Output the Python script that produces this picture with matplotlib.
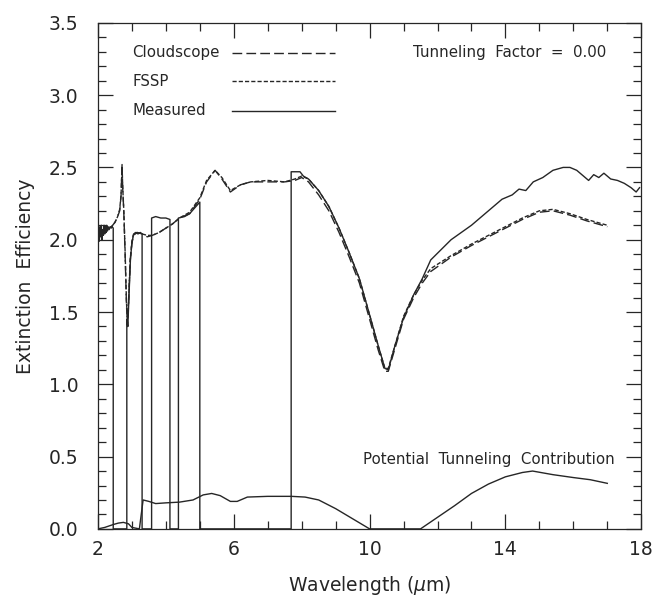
import matplotlib
matplotlib.use("Agg")
import matplotlib.pyplot as plt
from matplotlib.ticker import MultipleLocator

# model curves (Cloudscope / FSSP)
wl_model = [2.00, 2.10, 2.20, 2.30, 2.40, 2.50, 2.58, 2.64, 2.68, 2.71, 2.73, 2.76, 2.80, 2.84, 2.87,
            2.90, 2.95, 3.00, 3.05, 3.15, 3.30, 3.45, 3.60, 3.80, 4.00, 4.20, 4.40, 4.70, 5.00, 5.20,
            5.45, 5.65, 5.90, 6.20, 6.50, 7.00, 7.50, 7.80, 8.00, 8.20, 8.50, 8.80, 9.10, 9.40, 9.70,
            10.00, 10.25, 10.45, 10.55, 10.75, 11.00, 11.30, 11.55, 11.80, 12.40, 13.00, 13.50, 14.00,
            14.50, 15.00, 15.40, 15.90, 16.40, 17.00]
cloudscope = [2.05, 2.06, 2.07, 2.08, 2.09, 2.12, 2.16, 2.20, 2.30, 2.52, 2.35, 2.20, 1.90, 1.55, 1.40,
              1.55, 1.85, 1.98, 2.03, 2.05, 2.04, 2.02, 2.03, 2.05, 2.08, 2.11, 2.15, 2.18, 2.28, 2.40,
              2.48, 2.42, 2.33, 2.38, 2.40, 2.40, 2.40, 2.41, 2.43, 2.40, 2.31, 2.20, 2.05, 1.88, 1.70,
              1.45, 1.24, 1.09, 1.09, 1.25, 1.45, 1.60, 1.70, 1.78, 1.88, 1.96, 2.02, 2.08,
              2.14, 2.19, 2.20, 2.17, 2.13, 2.09]
fssp = [2.05, 2.06, 2.07, 2.08, 2.09, 2.12, 2.16, 2.21, 2.31, 2.50, 2.36, 2.21, 1.92, 1.57, 1.42,
        1.57, 1.86, 1.99, 2.04, 2.05, 2.04, 2.03, 2.03, 2.05, 2.08, 2.11, 2.15, 2.19, 2.29, 2.41,
        2.48, 2.43, 2.34, 2.38, 2.40, 2.41, 2.40, 2.42, 2.44, 2.42, 2.34, 2.23, 2.08, 1.91, 1.73,
        1.48, 1.27, 1.11, 1.11, 1.27, 1.47, 1.62, 1.72, 1.80, 1.89, 1.97, 2.03, 2.09,
        2.15, 2.20, 2.21, 2.18, 2.14, 2.10]

# measured spectrum, gaps written as zeros
wl_meas = [2.00, 2.02, 2.04, 2.06, 2.08, 2.10, 2.12, 2.14, 2.16, 2.18, 2.20, 2.22, 2.24, 2.26, 2.28,
           2.30, 2.33, 2.36, 2.39, 2.42, 2.45, 2.45, 2.85, 2.85, 2.88, 2.92, 2.96, 3.00, 3.04, 3.10,
           3.18, 3.25, 3.30, 3.30, 3.58, 3.58, 3.70, 3.85, 4.00, 4.12, 4.12, 4.37, 4.37, 4.55, 4.70,
           4.85, 5.00, 5.00, 7.69, 7.69, 7.95, 8.05, 8.20, 8.50, 8.80, 9.10, 9.40, 9.70, 10.00,
           10.25, 10.45, 10.55, 10.75, 11.00, 11.30, 11.55, 11.80, 12.40, 13.00, 13.50, 13.90, 14.20,
           14.40, 14.60, 14.82, 15.10, 15.40, 15.70, 15.90, 16.10, 16.30, 16.45, 16.60, 16.75, 16.90,
           17.10, 17.30, 17.50, 17.70, 17.85, 17.95]
measured = [2.00, 2.08, 1.99, 2.09, 2.02, 2.10, 2.00, 2.07, 2.03, 2.10, 2.04, 2.09, 2.05, 2.10, 2.06,
            2.09, 2.07, 2.09, 2.08, 2.09, 2.08, 0.0, 0.0, 1.45, 1.40, 1.65, 1.88, 1.97, 2.03, 2.05,
            2.04, 2.05, 2.04, 0.0, 0.0, 2.15, 2.16, 2.15, 2.15, 2.14, 0.0, 0.0, 2.15, 2.16, 2.18,
            2.22, 2.26, 0.0, 0.0, 2.47, 2.47, 2.44, 2.42, 2.34, 2.23, 2.08, 1.91, 1.73, 1.48,
            1.27, 1.11, 1.10, 1.27, 1.46, 1.62, 1.73, 1.86, 2.00, 2.10, 2.20, 2.28, 2.31,
            2.35, 2.34, 2.40, 2.43, 2.48, 2.50, 2.50, 2.48, 2.44, 2.41, 2.45, 2.43, 2.46,
            2.42, 2.41, 2.39, 2.36, 2.33, 2.36]

# potential tunneling contribution
wl_tun = [2.00, 2.20, 2.45, 2.60, 2.75, 2.90, 3.00, 3.22, 3.33, 3.50, 3.70, 4.00, 4.40, 4.80, 5.10,
          5.35, 5.60, 5.90, 6.10, 6.40, 7.00, 7.70, 8.10, 8.50, 9.00, 9.50, 10.00, 11.50, 12.00,
          12.50, 13.00, 13.50, 14.00, 14.50, 14.80, 15.40, 16.00, 16.50, 17.00]
tunneling = [0.00, 0.01, 0.03, 0.04, 0.045, 0.035, 0.01, 0.00, 0.20, 0.19, 0.175, 0.18, 0.185, 0.20, 0.235,
             0.245, 0.23, 0.19, 0.19, 0.22, 0.225, 0.225, 0.22, 0.20, 0.14, 0.07, 0.00, 0.00, 0.08,
             0.16, 0.245, 0.31, 0.36, 0.39, 0.40, 0.375, 0.355, 0.34, 0.315]

ink = "#262626"
lw = 1.0
plt.rcParams["font.family"] = "DejaVu Sans"

fig = plt.figure(figsize=(6.53, 6.01), dpi=100)
ax = fig.add_axes([0.150, 0.120, 0.832, 0.842])

ax.plot(wl_model, cloudscope, color=ink, linewidth=lw, dashes=(7, 3))
ax.plot(wl_model, fssp, color=ink, linewidth=lw, dashes=(3, 1.5))
ax.plot(wl_meas, measured, color=ink, linewidth=lw)
ax.plot(wl_tun, tunneling, color=ink, linewidth=lw)

ax.set_xlim(2, 18)
ax.set_ylim(0, 3.5)
ax.set_xticks([2, 6, 10, 14, 18])
ax.xaxis.set_minor_locator(MultipleLocator(1))
ax.yaxis.set_major_locator(MultipleLocator(0.5))
ax.yaxis.set_minor_locator(MultipleLocator(0.1))
ax.yaxis.set_major_formatter(matplotlib.ticker.FormatStrFormatter("%.1f"))
ax.tick_params(which="both", direction="in", top=True, right=True, colors=ink,
               labelsize=13.5, width=0.9)
ax.tick_params(which="major", length=11)
ax.tick_params(which="minor", length=6)
ax.tick_params(axis="y", pad=14)
ax.tick_params(axis="x", pad=8)
for s in ax.spines.values():
    s.set_color(ink)
    s.set_linewidth(0.9)

ax.set_xlabel("Wavelength ($\\mu$m)", fontsize=13.5, color=ink, labelpad=11)
ax.set_ylabel("Extinction  Efficiency", fontsize=13.5, color=ink, labelpad=10)

# hand-placed legend as in the original figure
leg_names = ["Cloudscope", "FSSP", "Measured"]
leg_dashes = [(7, 3), (3, 1.5), ()]
leg_y = [0.941, 0.885, 0.826]
for name, d, yy in zip(leg_names, leg_dashes, leg_y):
    ax.text(0.063, yy, name, transform=ax.transAxes, fontsize=10.8, color=ink, va="center")
    ln, = ax.plot([0.247, 0.436], [yy, yy], transform=ax.transAxes, color=ink, linewidth=lw)
    if d:
        ln.set_dashes(d)

ax.text(0.936, 0.941, "Tunneling  Factor  =  0.00", transform=ax.transAxes, fontsize=10.8,
        color=ink, va="center", ha="right")
ax.text(0.952, 0.138, "Potential  Tunneling  Contribution", transform=ax.transAxes, fontsize=10.8,
        color=ink, va="center", ha="right")

fig.savefig("out.png", dpi=100)
